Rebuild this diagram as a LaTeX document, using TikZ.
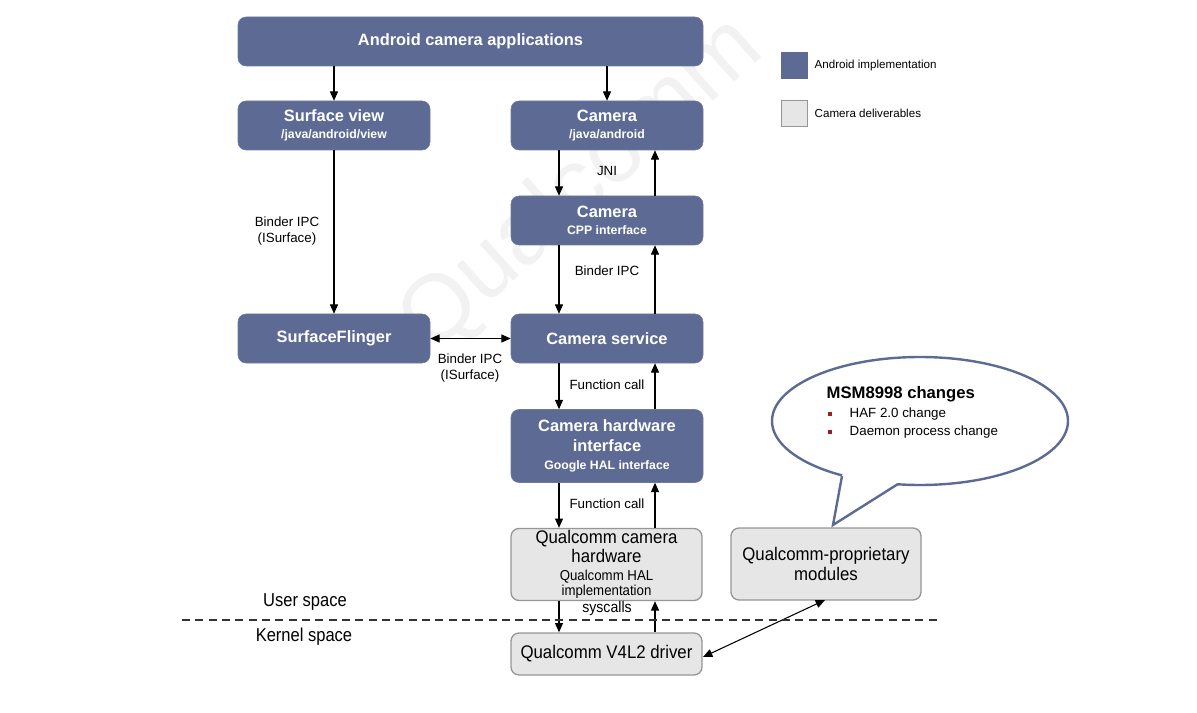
\documentclass[tikz,border=0pt]{standalone}
\usepackage{fontspec}
\setmainfont{Liberation Sans}
\newfontfamily\narrowfont[FakeStretch=0.92]{Liberation Sans}
\newfontfamily\narrowerfont[FakeStretch=0.885]{Liberation Sans}
\usetikzlibrary{arrows.meta,calc}
\definecolor{andblue}{RGB}{93,107,148}
\definecolor{delgray}{RGB}{230,230,230}
\definecolor{delborder}{RGB}{150,150,150}
\definecolor{bulletred}{RGB}{160,30,30}
\newcommand\subfnt{\bfseries\fontsize{9.2}{11}\selectfont}
\newcommand\halfnt{\narrowfont\fontsize{10.8}{13}\selectfont}
\newcommand\bubfnt{\fontsize{10}{12}\selectfont}
\begin{document}
\begin{tikzpicture}[x=0.75pt,y=-0.75pt,
  andbox/.style={rounded corners=6pt,fill=andblue,draw=andblue!90!white,text=white,font=\bfseries\fontsize{12.3}{15}\selectfont,align=center,minimum width=144pt,minimum height=36.75pt,inner sep=0pt},
  delbox/.style={rounded corners=6pt,fill=delgray,draw=delborder,line width=1pt,text=black,font=\narrowfont\fontsize{13.7}{14.5}\selectfont,align=center,minimum width=143.25pt,minimum height=54pt,inner sep=0pt},
  arr/.style={-{Triangle[length=7pt,width=6pt]},line width=0.8pt},
  darr/.style={{Triangle[length=7pt,width=6pt]}-{Triangle[length=7pt,width=6pt]},line width=0.8pt},
  lbl/.style={font=\fontsize{10}{12}\selectfont,align=center,text=black}
]
\useasboundingbox (0,0) rectangle (1197,713);
% watermark
\node[rotate=42,text=black!5,font=\fontsize{70}{70}\selectfont] (wm) at (582,186) {Qualcomm};

% Android boxes
\node[andbox,minimum width=348.75pt] (apps) at (470.5,41.5) {Android camera applications};
\node[andbox] (sv) at (334,125.5) {Surface view\\[-2.5pt]{\subfnt /java/android/view}};
\node[andbox] (cam) at (607,125.5) {Camera\\[-2.5pt]{\subfnt /java/android}};
\node[andbox] (cpp) at (607,220.5) {Camera\\[-2.5pt]{\subfnt CPP interface}};
\node[andbox] (sf) at (334,338.5) {SurfaceFlinger};
\node[andbox] (cs) at (607,338.5) {Camera service};
\node[andbox,minimum height=54.75pt] (hwi) at (607,446) {Camera hardware\\interface\\[-1.5pt]{\subfnt Google HAL interface}};

% deliverables
\node[delbox] (qch) at (606.5,564.5) {Qualcomm camera\\hardware\\[-1pt]{\halfnt Qualcomm HAL}\\[-3pt]{\halfnt implementation}};
\node[delbox,minimum width=142.5pt] (qpm) at (826,564) {Qualcomm-proprietary\\modules};
\node[delbox,minimum height=31.5pt] (v4l) at (606.5,654) {Qualcomm V4L2 driver};

% arrows
\draw[arr] (334,0 |- apps.south) -- (334,0 |- sv.north);
\draw[arr] (607,0 |- apps.south) -- (607,0 |- cam.north);
\draw[arr] (sv.south) -- (sf.north);
\draw[arr] (559,0 |- cam.south) -- (559,0 |- cpp.north);
\draw[arr] (655,0 |- cpp.north) -- (655,0 |- cam.south);
\draw[arr] (559,0 |- cpp.south) -- (559,0 |- cs.north);
\draw[arr] (655,0 |- cs.north) -- (655,0 |- cpp.south);
\draw[arr] (559,0 |- cs.south) -- (559,0 |- hwi.north);
\draw[arr] (655,0 |- hwi.north) -- (655,0 |- cs.south);
\draw[arr] (559,0 |- hwi.south) -- (559,0 |- qch.north);
\draw[arr] (655,0 |- qch.north) -- (655,0 |- hwi.south);
\draw[arr] (559,0 |- qch.south) -- (559,0 |- v4l.north);
\draw[arr] (655,0 |- v4l.north) -- (655,0 |- qch.south);
\draw[darr] (sf.east) -- (cs.west);
\coordinate (v4lr) at (703,657);
\coordinate (qpmb) at (825,600);
\draw[darr] (v4lr) -- (qpmb);

% labels
\node[lbl] (l1) at (287,231) {Binder IPC\\(ISurface)};
\node[lbl] (l2) at (607,171) {JNI};
\node[lbl] (l3) at (607,271) {Binder IPC};
\node[lbl] (l4) at (470,368) {Binder IPC\\(ISurface)};
\node[lbl] (l5) at (607,385) {Function call};
\node[lbl] (l6) at (607,504) {Function call};
\node[font=\narrowfont\fontsize{11.5}{13}\selectfont] (l7) at (607,609) {syscalls};

% user/kernel
\draw[dashed,dash pattern=on 6pt off 4pt,line width=0.9pt,black!80] (182,620) -- (940,620);
\node[font=\narrowerfont\fontsize{14}{16}\selectfont] (us) at (305,602) {User space};
\node[font=\narrowerfont\fontsize{14}{16}\selectfont] (ks) at (304,637) {Kernel space};

% legend
\node[fill=andblue,minimum width=20.25pt,minimum height=20.25pt,inner sep=0pt] (lg1) at (794.5,65.5) {};
\node[anchor=west,font=\fontsize{8.7}{10}\selectfont] (lg1t) at (810,65.5) {Android implementation};
\node[fill=delgray,draw=delborder,line width=0.8pt,minimum width=19.5pt,minimum height=19.5pt,inner sep=0pt] (lg2) at (794.5,113.5) {};
\node[anchor=west,font=\fontsize{8.7}{10}\selectfont] (lg2t) at (810,113.5) {Camera deliverables};

% speech bubble
\draw[andblue,line width=1.8pt,fill=white] (920,421) ellipse [x radius=148, y radius=64];
\fill[white] (842,476) -- (845,466) -- (896,472) -- (898,484) -- (833,525) -- cycle;
\draw[andblue,line width=1.8pt,line join=miter] (842,476) -- (833,525) -- (898,484);
\node[anchor=west,font=\bfseries\fontsize{12.5}{14}\selectfont] (bt) at (822,394) {MSM8998 changes};
\fill[bulletred] (827.5,412) rectangle (831.5,416);
\fill[bulletred] (827.5,430) rectangle (831.5,434);
\node[anchor=west,font=\bubfnt] (b1) at (845,414) {HAF 2.0 change};
\node[anchor=west,font=\bubfnt] (b2) at (845,432) {Daemon process change};
\end{tikzpicture}
\end{document}
